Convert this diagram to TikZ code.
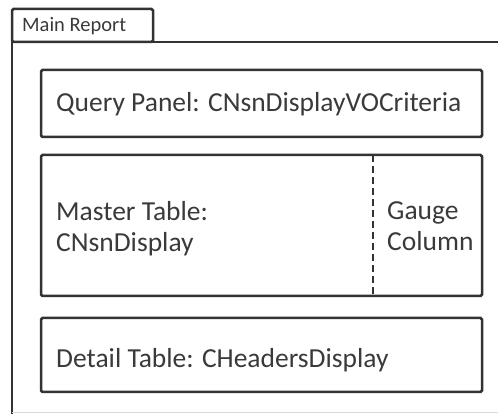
\documentclass[tikz,border=0pt]{standalone}
\usepackage{fontspec}
\setmainfont{Carlito}
\definecolor{ln}{HTML}{333333}
\definecolor{tx}{HTML}{3A3A3A}
\begin{document}
\begin{tikzpicture}[x=1pt,y=1pt,
  box/.style={draw=ln,line width=2.5pt,rounded corners=1.5pt},
  lbl/.style={text=tx,font=\fontsize{27.5}{31}\selectfont,anchor=west,inner sep=0pt,align=left},
  tablbl/.style={text=tx,font=\fontsize{20.5}{24}\selectfont,anchor=west,inner sep=0pt}]
\useasboundingbox (0,0) rectangle (498,414);
% tab and outer frame
\draw[box] (12,372) rectangle (153,405);
\node[tablbl] (tab) at (22,388) {Main Report};
\draw[ln,line width=2.5pt] (12,0) -- (12,372) -- (498,372);
\draw[black!15,line width=1pt] (12,1.5) -- (498,1.5);
% query panel
\draw[box] (41,277) rectangle (482,344);
\node[lbl] (q) at (56,310) {Query Panel: CNsnDisplayVOCriteria};
% master table
\draw[box] (41,118) rectangle (482,259);
\draw[ln,line width=2.5pt,dash pattern=on 7pt off 4pt] (373,259) -- (373,118);
\node[lbl] (m) at (56,185) {Master Table:\\CNsnDisplay};
\node[lbl] (g) at (387,188) {Gauge\\Column};
% detail table
\draw[box] (41,22) rectangle (482,96);
\node[lbl] (d) at (56,54) {Detail Table: CHeadersDisplay};
\end{tikzpicture}
\end{document}
